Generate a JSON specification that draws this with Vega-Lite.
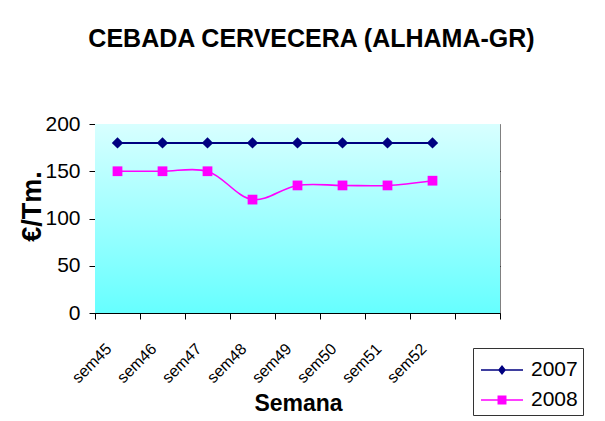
{
  "$schema": "https://vega.github.io/schema/vega-lite/v6.json",
  "width": 405,
  "height": 189,
  "autosize": {"type": "none"},
  "padding": {"left": 95, "top": 124, "right": 105, "bottom": 108},
  "background": "white",
  "title": {
    "text": "CEBADA CERVECERA (ALHAMA-GR)",
    "font": "Liberation Sans",
    "fontSize": 25,
    "fontWeight": "bold",
    "color": "black",
    "anchor": "middle",
    "frame": "group",
    "baseline": "alphabetic",
    "dx": 14,
    "offset": 41
  },
  "config": {
    "font": "Liberation Sans",
    "view": {"stroke": "#808080", "strokeWidth": 1}
  },
  "data": {
    "values": [
      {"semana": "sem45", "serie": "2007", "valor": 180},
      {"semana": "sem46", "serie": "2007", "valor": 180},
      {"semana": "sem47", "serie": "2007", "valor": 180},
      {"semana": "sem48", "serie": "2007", "valor": 180},
      {"semana": "sem49", "serie": "2007", "valor": 180},
      {"semana": "sem50", "serie": "2007", "valor": 180},
      {"semana": "sem51", "serie": "2007", "valor": 180},
      {"semana": "sem52", "serie": "2007", "valor": 180},
      {"semana": "sem45", "serie": "2008", "valor": 150},
      {"semana": "sem46", "serie": "2008", "valor": 150},
      {"semana": "sem47", "serie": "2008", "valor": 150},
      {"semana": "sem48", "serie": "2008", "valor": 120},
      {"semana": "sem49", "serie": "2008", "valor": 135},
      {"semana": "sem50", "serie": "2008", "valor": 135},
      {"semana": "sem51", "serie": "2008", "valor": 135},
      {"semana": "sem52", "serie": "2008", "valor": 140}
    ]
  },
  "encoding": {
    "x": {
      "field": "semana",
      "type": "nominal",
      "bandPosition": 0.5,
      "scale": {
        "type": "band",
        "domain": ["sem45", "sem46", "sem47", "sem48", "sem49", "sem50", "sem51", "sem52", " "],
        "paddingInner": 0,
        "paddingOuter": 0
      },
      "axis": {
        "title": "Semana",
        "titleFont": "Liberation Sans",
        "titleFontSize": 23,
        "titleFontWeight": "bold",
        "titleColor": "black",
        "titleBaseline": "alphabetic",
        "titleY": 97,
        "titleX": 203,
        "labelAngle": -45,
        "labelAlign": "right",
        "labelBaseline": "middle",
        "labelFontSize": 16,
        "labelColor": "black",
        "labelPadding": 27,
        "labelOffset": -9,
        "tickBand": "extent",
        "tickSize": 6,
        "tickColor": "black",
        "domainColor": "black",
        "grid": false
      }
    },
    "y": {
      "field": "valor",
      "type": "quantitative",
      "scale": {"domain": [0, 200], "nice": false},
      "axis": {
        "title": "€/Tm.",
        "titleFont": "Liberation Sans",
        "titleFontSize": 27,
        "titleFontWeight": "bold",
        "titleColor": "black",
        "titleAngle": -90,
        "titleAlign": "center",
        "titleBaseline": "middle",
        "titleX": -63,
        "titleY": 82,
        "values": [0, 50, 100, 150, 200],
        "labelFontSize": 21,
        "labelColor": "black",
        "labelPadding": 9,
        "tickSize": 6,
        "tickColor": "black",
        "domainColor": "black",
        "grid": true,
        "gridColor": {"condition": {"test": "datum.value === 200", "value": "#808080"}, "value": "black"},
        "gridWidth": 1
      }
    }
  },
  "layer": [
    {
      "data": {"values": [{"desde": 0, "hasta": 200}]},
      "mark": {
        "type": "rect",
        "color": {
          "gradient": "linear",
          "x1": 0, "y1": 0, "x2": 0, "y2": 1,
          "stops": [
            {"offset": 0, "color": "#d8ffff"},
            {"offset": 1, "color": "#66ffff"}
          ]
        }
      },
      "encoding": {
        "x": null,
        "y": {"field": "desde", "type": "quantitative", "scale": {"domain": [0, 200], "nice": false}},
        "y2": {"field": "hasta"}
      }
    },
    {
      "transform": [{"filter": "datum.serie === '2007'"}],
      "mark": {"type": "line", "color": "#000080", "strokeWidth": 2}
    },
    {
      "transform": [{"filter": "datum.serie === '2008'"}],
      "mark": {"type": "line", "interpolate": "catmull-rom", "color": "#ff00ff", "strokeWidth": 1.6}
    },
    {
      "transform": [{"filter": "datum.serie === '2007'"}],
      "mark": {"type": "point", "filled": true, "opacity": 1, "shape": "diamond", "size": 130, "color": "#000080"}
    },
    {
      "transform": [{"filter": "datum.serie === '2008'"}],
      "mark": {"type": "point", "filled": true, "opacity": 1, "shape": "square", "size": 95, "color": "#ff00ff"}
    },
    {
      "mark": {"type": "point", "filled": true, "opacity": 0},
      "encoding": {
        "color": {
          "field": "serie",
          "type": "nominal",
          "scale": {"domain": ["2007", "2008"], "range": ["#000080", "#ff00ff"]},
          "legend": {
            "title": null,
            "orient": "none",
            "legendX": 378,
            "legendY": 224,
            "strokeColor": "#333333",
            "fillColor": "white",
            "padding": 5,
            "symbolSize": 1024,
            "symbolOpacity": 1,
            "symbolOffset": 7,
            "labelOffset": 12,
            "rowPadding": 3,
            "labelFontSize": 21,
            "labelColor": "black",
            "labelFont": "Liberation Sans"
          }
        },
        "shape": {
          "field": "serie",
          "type": "nominal",
          "scale": {
            "domain": ["2007", "2008"],
            "range": [
              "M-1.3125,-0.05H1.3125V0.05H-1.3125ZM0,-0.31L0.25,0L0,0.31L-0.25,0Z",
              "M-1.3125,-0.05H1.3125V0.05H-1.3125ZM-0.28,-0.28H0.28V0.28H-0.28Z"
            ]
          },
          "legend": {
            "title": null,
            "orient": "none",
            "legendX": 378,
            "legendY": 224,
            "strokeColor": "#333333",
            "fillColor": "white",
            "padding": 5,
            "symbolSize": 1024,
            "symbolOpacity": 1,
            "symbolOffset": 7,
            "labelOffset": 12,
            "rowPadding": 3,
            "labelFontSize": 21,
            "labelColor": "black",
            "labelFont": "Liberation Sans"
          }
        }
      }
    }
  ]
}
